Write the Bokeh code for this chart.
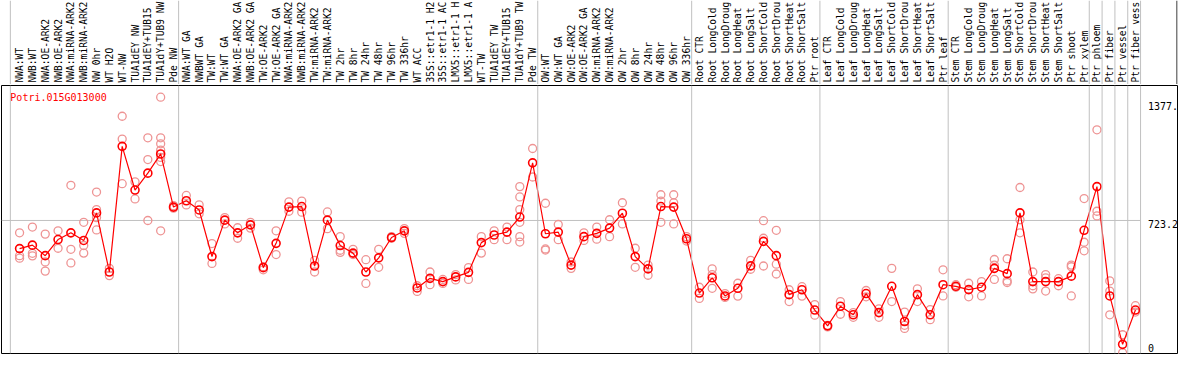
import math
from bokeh.plotting import figure
from bokeh.layouts import column
from bokeh.models import Range1d, Span
from bokeh.core.properties import value
from bokeh.embed import file_html
from bokeh.resources import INLINE

title = "Potri.015G013000"

# category labels as they are visible in the chart header
categories = [
    "NWA:WT", "NWB:WT", "NWA:OE-ARK2", "NWB:OE-ARK2", "NWA:miRNA-ARK2", "NWB:miRNA-ARK2",
    "NW 0hr", "WT H2O", "WT-NW", "TUA1dEY NW", "TUA1dEY+TUB15", "TUA1dY+TUB9 NW", "Pde NW",
    "NWA:WT GA", "NWBWT GA", "TW:WT", "TW:WT GA", "NWA:OE-ARK2 GA", "NWB:OE-ARK2 GA",
    "TW:OE-ARK2", "TW:OE-ARK2 GA", "NWA:miRNA-ARK2", "NWB:miRNA-ARK2", "TW:miRNA-ARK2",
    "TW:miRNA-ARK2", "TW 2hr", "TW 8hr", "TW 24hr", "TW 48hr", "TW 96hr", "TW 336hr",
    "WT ACC", "35S::etr1-1 H2", "35S::etr1-1 AC", "LMX5::etr1-1 H", "LMX5::etr1-1 A",
    "WT-TW", "TUA1dEY TW", "TUA1dEY+TUB15", "TUA1dY+TUB9 TW", "Pde TW",
    "OW:WT", "OW:WT GA", "OW:OE-ARK2", "OW:OE-ARK2 GA", "OW:miRNA-ARK2", "OW:miRNA-ARK2",
    "OW 2hr", "OW 8hr", "OW 24hr", "OW 48hr", "OW 96hr", "OW 336hr",
    "Root CTR", "Root LongCold", "Root LongDroug", "Root LongHeat", "Root LongSalt",
    "Root ShortCold", "Root ShortDrou", "Root ShortHeat", "Root ShortSalt", "Ptr root",
    "Leaf CTR", "Leaf LongCold", "Leaf LongDroug", "Leaf LongHeat", "Leaf LongSalt",
    "Leaf ShortCold", "Leaf ShortDrou", "Leaf ShortHeat", "Leaf ShortSalt", "Ptr leaf",
    "Stem CTR", "Stem LongCold", "Stem LongDroug", "Stem LongHeat", "Stem LongSalt",
    "Stem ShortCold", "Stem ShortDrou", "Stem ShortHeat", "Stem ShortSalt", "Ptr shoot",
    "Ptr xylem", "Ptr phloem", "Ptr fiber", "Ptr vessel", "Ptr fiber vess",
]

mean_values = [
    568, 587, 529, 618, 655, 613, 765, 439, 1132, 891,
    984, 1090, 797, 832, 781, 524, 725, 655, 699, 463,
    597, 797, 800, 472, 725, 585, 543, 439, 517, 629,
    666, 351, 404, 386, 412, 437, 601, 643, 659, 742,
    1041, 650, 659, 477, 634, 652, 681, 763, 524, 456,
    800, 797, 622, 323, 407, 307, 349, 473, 608, 529,
    314, 341, 229, 142, 250, 203, 320, 215, 360, 166,
    314, 203, 369, 360, 342, 355, 459, 430, 765, 386,
    386, 386, 416, 669, 910, 307, 40, 229,
]

replicates = [
    [655, 529, 515], [687, 542, 528], [648, 494, 444], [666, 570], [917, 564, 489],
    [713, 585, 543], [880, 783, 739, 671], [459, 419], [1298, 1172, 926], [936, 842],
    [1179, 1059, 723], [1403, 1179, 1146, 1111, 1071, 1048, 666], [805, 791], [861, 809], [809, 760],
    [596, 486], [739, 704], [683, 625], [713, 681], [468, 451],
    [666, 535], [826, 774], [830, 769], [503, 439], [770, 678],
    [634, 559, 547], [564, 535], [507, 376], [564, 465], [634, 625],
    [678, 652], [363, 332], [439, 369], [398, 376], [425, 395],
    [463, 398], [634, 543], [666, 617], [687, 617], [910, 853, 783, 713, 634, 604],
    [1120, 963], [818, 566, 560], [701, 617], [494, 459], [655, 613],
    [687, 620], [727, 634], [821, 704], [570, 465], [477, 421],
    [865, 830, 713], [865, 821, 704], [634, 610], [355, 293], [456, 425, 349],
    [320, 299], [377, 306], [503, 454], [722, 625, 472], [669, 482, 428],
    [341, 276], [358, 306], [259, 201], [145, 136], [276, 206],
    [215, 189], [337, 302], [236, 189], [459, 276], [218, 145, 128],
    [346, 276], [232, 176], [451, 307], [369, 355], [377, 302],
    [386, 307], [508, 477, 398], [512, 390, 381], [905, 727, 655], [439, 363, 346],
    [425, 407, 334], [402, 363], [477, 468, 307], [844, 603, 556], [1223, 774, 748],
    [390, 334, 203], [93, -7], [253, 218],
]

y_tick_values = [1377, 723.2, 0]
y_tick_labels = ["1377.", "723.2", "0"]
group_last_index = [12, 40, 52, 62, 72, 83, 84, 85, 86, 87]

# ---------------------------------------------------------------
FONT = value("DejaVu Sans Mono")
GRID = "#c0c0c0"
W = 1178
n = len(categories)
xs = list(range(n))

xr = Range1d(-1.41, 90.28)
grid_x = [-0.72] + [g + 0.4 for g in group_last_index]

# header with rotated category labels
header = figure(width=W, height=84, x_range=xr, y_range=Range1d(0, 84),
                output_backend="svg", toolbar_location=None,
                x_axis_location=None, y_axis_location=None,
                min_border_left=1, min_border_right=1, min_border_top=0, min_border_bottom=0,
                outline_line_color=None)
header.grid.visible = False
for gx in grid_x:
    header.add_layout(Span(location=gx, dimension="height", line_color=GRID, line_width=1))
header.add_layout(Span(location=90.24, dimension="height", line_color="black", line_width=1))
header.text(x=xs, y=[2] * n, text=categories, angle=math.pi / 2,
            text_align="left", text_baseline="middle",
            text_font=FONT, text_font_size="9.6px", text_color="black")

# main plot
p = figure(width=W, height=270, x_range=xr, y_range=Range1d(-10.5, 1467.5),
           output_backend="svg", toolbar_location=None,
           x_axis_location=None, y_axis_location=None,
           min_border_left=1, min_border_right=1, min_border_top=1, min_border_bottom=1,
           outline_line_color="black", outline_line_width=1)
p.grid.visible = False
for gx in grid_x:
    p.add_layout(Span(location=gx, dimension="height", line_color=GRID, line_width=1))
p.segment(x0=[xr.start], y0=[y_tick_values[1]], x1=[group_last_index[-1] + 0.4],
          y1=[y_tick_values[1]], line_color=GRID, line_width=1)

rx, ry = [], []
for i, reps in enumerate(replicates):
    for r in reps:
        rx.append(i)
        ry.append(r)
p.scatter(rx, ry, marker="circle", size=8, fill_color=None,
          line_color="#ee9494", line_width=1.3)
p.line(xs, mean_values, line_color="red", line_width=1.2)
p.scatter(xs, mean_values, marker="circle", size=8, fill_color=None,
          line_color="red", line_width=1.6)

p.text(x=[-0.72], y=[1429], text=[title], text_align="left", text_baseline="top",
       text_font=FONT, text_font_size="10px", text_color="red")
p.text(x=[87.98, 87.98], y=y_tick_values[:2], text=y_tick_labels[:2],
       text_align="left", text_baseline="top",
       text_font=FONT, text_font_size="10px", text_color="black")
p.text(x=[87.98], y=[y_tick_values[2]], text=[y_tick_labels[2]],
       text_align="left", text_baseline="bottom",
       text_font=FONT, text_font_size="10px", text_color="black")

layout = column(header, p, spacing=0)
open("out.html", "w").write(file_html(layout, INLINE))
